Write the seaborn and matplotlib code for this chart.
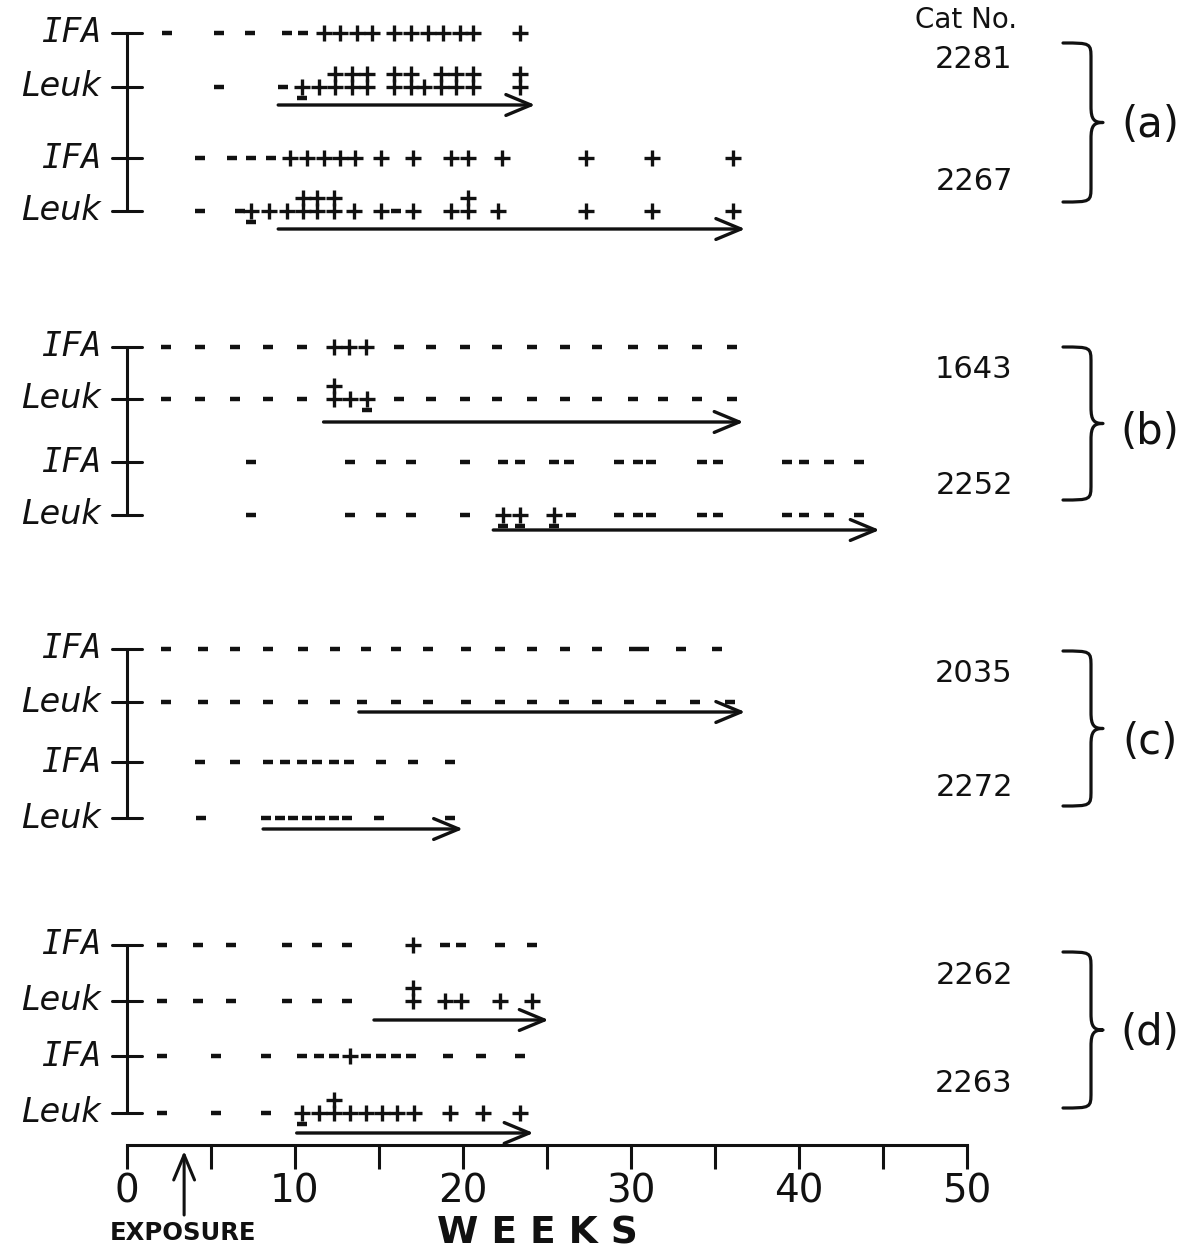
import numpy as np
import pandas as pd
import matplotlib
matplotlib.use('Agg')
import matplotlib.pyplot as plt
from matplotlib.path import Path
from matplotlib.patches import PathPatch
import seaborn as sns

# weeks at which each test read "-" or "+"; plus_up / minus_low are the
# second symbol stacked above / below the first one on the same week

# (a) cat 2281
c2281_ifa_minus = [2.4, 5.5, 7.3, 9.5, 10.5]
c2281_ifa_plus = [11.7, 12.7, 13.7, 14.6, 15.9, 16.9, 17.9, 18.8, 19.8, 20.6, 23.4]
c2281_leuk_minus = [5.5, 9.3]
c2281_leuk_plus = [10.4, 11.4, 12.4, 13.4, 14.3, 15.9, 16.9, 17.7, 18.7, 19.6, 20.6, 23.4]
c2281_leuk_plus_up = [12.4, 13.4, 14.3, 15.9, 16.9, 18.7, 19.6, 20.6, 23.4]
c2281_leuk_minus_low = [10.4]
c2281_arrow = (9.0, 24.3)

# (a) cat 2267
c2267_ifa_minus = [4.35, 6.25, 7.4, 8.6]
c2267_ifa_plus = [9.7, 10.7, 11.7, 12.7, 13.6, 15.1, 17.0, 19.3, 20.3, 22.3, 27.3, 31.25, 36.1]
c2267_leuk_minus = [4.35, 6.7, 16.0]
c2267_leuk_plus = [7.4, 8.45, 9.5, 10.5, 11.3, 12.3, 13.5, 15.1, 17.0, 19.3, 20.3, 22.1,
                   27.3, 31.25, 36.1]
c2267_leuk_plus_up = [10.5, 11.3, 12.3, 20.3]
c2267_leuk_minus_low = [7.4]
c2267_arrow = (9.0, 36.8)

# (b) cat 1643
c1643_ifa_minus = [2.3, 4.35, 6.4, 8.4, 10.4, 16.2, 18.1, 20.1, 22.0, 24.1, 26.1, 28.0,
                   30.1, 31.9, 33.9, 36.0]
c1643_ifa_plus = [12.3, 13.2, 14.2]
c1643_leuk_minus = [2.3, 4.35, 6.4, 8.4, 10.4, 16.2, 18.1, 20.1, 22.0, 24.1, 26.1, 28.0,
                    30.1, 31.9, 33.9, 36.0]
c1643_leuk_plus = [12.3, 13.3, 14.3]
c1643_leuk_plus_up = [12.3]
c1643_leuk_minus_low = [14.3]
c1643_arrow = (11.7, 36.7)

# (b) cat 2252
c2252_ifa_minus = [7.4, 13.3, 15.1, 16.9, 20.1, 22.4, 23.4, 25.4, 26.3, 29.3, 30.4, 31.2,
                   34.2, 35.2, 39.3, 40.3, 41.8, 43.6]
c2252_ifa_plus = []
c2252_leuk_minus = [7.4, 13.3, 15.1, 16.9, 20.1, 26.4, 29.3, 30.4, 31.2, 34.2, 35.2,
                    39.3, 40.3, 41.8, 43.6]
c2252_leuk_plus = [22.4, 23.4, 25.4]
c2252_leuk_plus_up = []
c2252_leuk_minus_low = [22.4, 23.4, 25.4]
c2252_arrow = (21.8, 44.8)

# (c) cat 2035
c2035_ifa_minus = [2.3, 4.5, 6.4, 8.4, 10.5, 12.4, 14.2, 16.0, 17.9, 20.2, 22.2, 24.1,
                   26.1, 28.0, 30.2, 30.8, 33.0, 35.1]
c2035_ifa_plus = []
c2035_leuk_minus = [2.3, 4.5, 6.4, 8.4, 10.5, 12.4, 14.0, 16.0, 17.9, 20.2, 22.2, 24.1,
                    26.0, 28.0, 29.9, 31.8, 33.8, 35.9]
c2035_leuk_plus = []
c2035_leuk_plus_up = []
c2035_leuk_minus_low = []
c2035_arrow = (13.8, 36.8)

# (c) cat 2272
c2272_ifa_minus = [4.35, 6.4, 8.4, 9.4, 10.4, 11.3, 12.3, 13.2, 15.1, 17.0, 19.2]
c2272_ifa_plus = []
c2272_leuk_minus = [4.4, 8.3, 9.1, 9.9, 10.7, 11.5, 12.3, 13.1, 15.0, 19.2]
c2272_leuk_plus = []
c2272_leuk_plus_up = []
c2272_leuk_minus_low = []
c2272_arrow = (8.1, 20.0)

# (d) cat 2262
c2262_ifa_minus = [2.1, 4.2, 6.2, 9.5, 11.3, 13.1, 18.9, 19.9, 22.2, 24.1]
c2262_ifa_plus = [17.0]
c2262_leuk_minus = [2.1, 4.2, 6.2, 9.5, 11.3, 13.1]
c2262_leuk_plus = [17.0, 18.9, 19.9, 22.2, 24.1]
c2262_leuk_plus_up = [17.0]
c2262_leuk_minus_low = []
c2262_arrow = (14.7, 25.1)

# (d) cat 2263
c2263_ifa_minus = [2.1, 5.3, 8.3, 10.4, 11.4, 12.3, 14.2, 15.1, 16.0, 16.9, 19.1, 21.1, 23.4]
c2263_ifa_plus = [13.3]
c2263_leuk_minus = [2.1, 5.3, 8.3]
c2263_leuk_plus = [10.4, 11.4, 12.3, 13.3, 14.2, 15.2, 16.1, 17.1, 19.2, 21.2, 23.4]
c2263_leuk_plus_up = [12.3]
c2263_leuk_minus_low = [10.4]
c2263_arrow = (10.1, 24.2)

exposure_week = 3.4
cat_numbers = ['2281', '2267', '1643', '2252', '2035', '2272', '2262', '2263']
group_labels = ['(a)', '(b)', '(c)', '(d)']

# ---- layout (pixel rows of the page) ----
W, H = 1192, 1250
X0, X1, YB = 127, 967, 1145
row_y = [33, 87, 158, 211, 347, 399, 462, 515, 649, 702, 762, 818, 945, 1001, 1056, 1113]
arrow_y = [105, 229, 422, 530, 712, 829, 1020, 1133]
cat_y = [60, 182, 369, 486, 673, 787, 976, 1083]
brace_span = [(43, 202), (347, 500), (651, 806), (952, 1108)]
label_y = [125, 432, 742, 1033]

cats = [
    (c2281_ifa_minus, c2281_ifa_plus, c2281_leuk_minus, c2281_leuk_plus,
     c2281_leuk_plus_up, c2281_leuk_minus_low, c2281_arrow),
    (c2267_ifa_minus, c2267_ifa_plus, c2267_leuk_minus, c2267_leuk_plus,
     c2267_leuk_plus_up, c2267_leuk_minus_low, c2267_arrow),
    (c1643_ifa_minus, c1643_ifa_plus, c1643_leuk_minus, c1643_leuk_plus,
     c1643_leuk_plus_up, c1643_leuk_minus_low, c1643_arrow),
    (c2252_ifa_minus, c2252_ifa_plus, c2252_leuk_minus, c2252_leuk_plus,
     c2252_leuk_plus_up, c2252_leuk_minus_low, c2252_arrow),
    (c2035_ifa_minus, c2035_ifa_plus, c2035_leuk_minus, c2035_leuk_plus,
     c2035_leuk_plus_up, c2035_leuk_minus_low, c2035_arrow),
    (c2272_ifa_minus, c2272_ifa_plus, c2272_leuk_minus, c2272_leuk_plus,
     c2272_leuk_plus_up, c2272_leuk_minus_low, c2272_arrow),
    (c2262_ifa_minus, c2262_ifa_plus, c2262_leuk_minus, c2262_leuk_plus,
     c2262_leuk_plus_up, c2262_leuk_minus_low, c2262_arrow),
    (c2263_ifa_minus, c2263_ifa_plus, c2263_leuk_minus, c2263_leuk_plus,
     c2263_leuk_plus_up, c2263_leuk_minus_low, c2263_arrow),
]

recs = []
for i, (im, ip, lm, lp, lpu, lml, arr) in enumerate(cats):
    yi, yl = row_y[2 * i], row_y[2 * i + 1]
    recs += [(w, yi, '-') for w in im] + [(w, yi, '+') for w in ip]
    recs += [(w, yl, '-') for w in lm] + [(w, yl, '+') for w in lp]
    recs += [(w, yl - 13, '+') for w in lpu] + [(w, yl + 11, '-') for w in lml]
df = pd.DataFrame(recs, columns=['week', 'y', 'sym'])

sns.set_style('white')
plt.rcParams['font.family'] = ['DejaVu Sans']
INK = '#111111'

fig = plt.figure(figsize=(W / 100, H / 100), dpi=100)
ax = fig.add_axes([X0 / W, 1 - YB / H, (X1 - X0) / W, YB / H])
ax.patch.set_alpha(0)

sns.scatterplot(data=df[df.sym == '+'], x='week', y='y', marker='+', s=140,
                linewidth=2.4, color=INK, edgecolor=INK, legend=False, ax=ax, zorder=3)
sns.scatterplot(data=df[df.sym == '-'], x='week', y='y', marker='_', s=55,
                linewidth=3.2, color=INK, edgecolor=INK, legend=False, ax=ax, zorder=3)

for i, (*_, arr) in enumerate(cats):
    ax.annotate('', xy=(arr[1], arrow_y[i]), xytext=(arr[0], arrow_y[i]),
                arrowprops=dict(arrowstyle='->,head_length=0.6,head_width=0.25',
                                lw=2.4, color=INK, shrinkA=0, shrinkB=0,
                                mutation_scale=30))

# group brackets at the left
for g in range(4):
    ys = row_y[4 * g:4 * g + 4]
    ax.plot([0, 0], [ys[0], ys[-1]], color=INK, lw=2.2, clip_on=False)
    for y in ys:
        ax.plot([-0.9, 0.9], [y, y], color=INK, lw=2.2, clip_on=False)

# exposure arrow
ax.annotate('', xy=(exposure_week, YB + 6), xytext=(exposure_week, YB + 70),
            arrowprops=dict(arrowstyle='->,head_length=0.6,head_width=0.25',
                            lw=2.2, color=INK, shrinkA=0, shrinkB=0, mutation_scale=30),
            annotation_clip=False)

ax.set_xlim(0, 50)
ax.set_ylim(YB, 0)
ax.set_xlabel('')
ax.set_ylabel('')
ax.set_yticks([])
ax.set_xticks(range(0, 51, 10))
ax.set_xticks(range(5, 50, 10), minor=True)
ax.tick_params(axis='x', which='both', bottom=True, direction='out', length=17,
               width=2.2, color=INK, labelcolor=INK, labelsize=28, pad=3)
for s in ['top', 'left', 'right']:
    ax.spines[s].set_visible(False)
ax.spines['bottom'].set_color(INK)
ax.spines['bottom'].set_linewidth(2.2)

# decorations in page pixels
deco = fig.add_axes([0, 0, 1, 1])
deco.set_xlim(0, W)
deco.set_ylim(H, 0)
deco.axis('off')

for i, y in enumerate(row_y):
    if i % 2 == 0:
        deco.text(101, y, 'IFA', ha='right', va='center', fontsize=24,
                  family='DejaVu Sans Mono', style='italic', color=INK)
    else:
        deco.text(101, y, 'Leuk', ha='right', va='center', fontsize=24,
                  style='italic', color=INK)

deco.text(966, 20, 'Cat No.', ha='center', va='center', fontsize=20, color=INK)
for name, y in zip(cat_numbers, cat_y):
    deco.text(974, y, name, ha='center', va='center', fontsize=22, color=INK)


def brace(ax, yt, yb, ym, xl=1063, xm=1091, xt=1103, r=16):
    verts = [(xl, yt), (xm, yt), (xm, yt), (xm, yt + r),
             (xm, ym - r),
             (xm, ym - 3), (xm + 3, ym), (xt, ym),
             (xm + 3, ym), (xm, ym + 3), (xm, ym + r),
             (xm, yb - r),
             (xm, yb), (xm, yb), (xl, yb)]
    codes = [Path.MOVETO, Path.CURVE4, Path.CURVE4, Path.CURVE4,
             Path.LINETO,
             Path.CURVE4, Path.CURVE4, Path.CURVE4,
             Path.CURVE4, Path.CURVE4, Path.CURVE4,
             Path.LINETO,
             Path.CURVE4, Path.CURVE4, Path.CURVE4]
    ax.add_patch(PathPatch(Path(verts, codes), fill=False, lw=2.3, ec=INK,
                           capstyle='round', joinstyle='round'))


for (yt, yb), ly, lab in zip(brace_span, label_y, group_labels):
    brace(deco, yt, yb, (yt + yb) / 2)
    deco.text(1150, ly, lab, ha='center', va='center', fontsize=30, color=INK)

deco.text(183, 1233, 'EXPOSURE', ha='center', va='center', fontsize=17.5,
          fontweight='bold', color=INK)
deco.text(537, 1233, 'W E E K S', ha='center', va='center', fontsize=27,
          fontweight='bold', color=INK)

fig.savefig('out.png', dpi=100, facecolor='white')
